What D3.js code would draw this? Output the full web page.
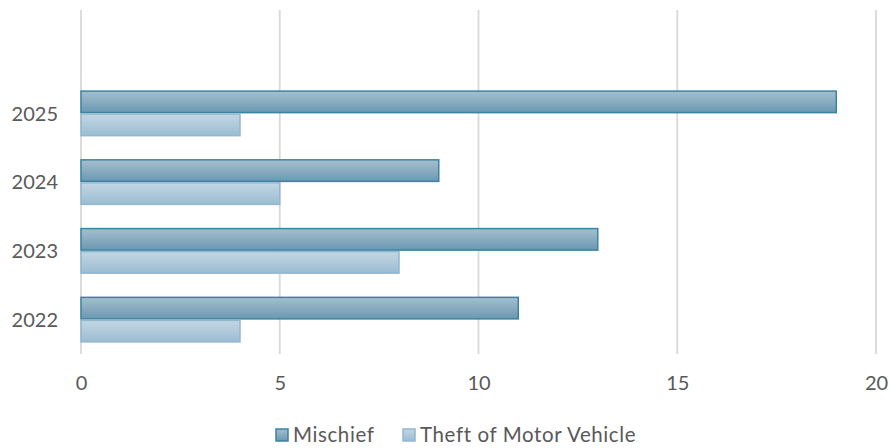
<!DOCTYPE html>
<html><head><meta charset="utf-8">
<script src="https://cdn.jsdelivr.net/npm/d3@7"></script>
<style>body{margin:0;background:#fff;} svg{display:block;} text{font-family:"Lato","Open Sans",sans-serif;fill:#595959;}</style>
</head><body>
<script>
const years = ["2022","2023","2024","2025"];
const seriesNames = ["Mischief","Theft of Motor Vehicle"];
const mischief = [11,13,9,19];
const theft = [4,8,5,4];
const xTicks = [0,5,10,15,20];

const W=891,H=448;
const svg=d3.select("body").append("svg").attr("width",W).attr("height",H);
const defs=svg.append("defs");
function grad(id,c1,c2){const g=defs.append("linearGradient").attr("id",id).attr("x1",0).attr("y1",0).attr("x2",0).attr("y2",1);
 g.append("stop").attr("offset","0%").attr("stop-color",c1);g.append("stop").attr("offset","100%").attr("stop-color",c2);}
grad("gM","#a6bfcd","#6a98b2");
grad("gT","#c3d7e3","#9bbcd2");
const fills=["url(#gM)","url(#gT)"], strokes=["#3b83a4","#92b7d0"];

const x=d3.scaleLinear().domain([0,20]).range([81,876]);
const y=d3.scaleBand().domain(years).range([354,79]).paddingInner(0.33).paddingOuter(0.165);
const ySub=d3.scaleBand().domain([0,1]).range([0,y.bandwidth()]);

// gridlines
svg.append("g").selectAll("line").data(xTicks).join("line")
 .attr("x1",d=>x(d)).attr("x2",d=>x(d)).attr("y1",10).attr("y2",354)
 .attr("stroke","#d9d9d9").attr("stroke-width",1.8);

const data=[mischief,theft];
data.forEach((vals,si)=>{
 svg.append("g").selectAll("rect").data(years).join("rect")
  .attr("x",x(0)).attr("y",(d)=>y(d)+ySub(si)+0.75)
  .attr("width",(d,i)=>x(vals[i])-x(0)).attr("height",ySub.bandwidth()-1.5)
  .attr("fill",fills[si]).attr("stroke",strokes[si]).attr("stroke-width",1.5);
});

// axes labels
const xa=d3.axisBottom(x).tickValues(xTicks).tickSize(0).tickPadding(0);
const gx=svg.append("g").attr("transform","translate(0,376)").call(xa);
gx.select(".domain").remove();
gx.selectAll("text").attr("font-size",20).attr("dy","0.71em").style("fill","#595959").style("font-family","Lato, sans-serif");

const ya=d3.axisLeft(y).tickSize(0).tickPadding(0);
const gy=svg.append("g").attr("transform","translate(58,0)").call(ya);
gy.select(".domain").remove();
gy.selectAll("text").attr("font-size",20).attr("dy","0.36em").style("fill","#595959").style("font-family","Lato, sans-serif");

// legend
const leg=svg.append("g");
const lx=[276,403];
seriesNames.forEach((n,i)=>{
 leg.append("rect").attr("x",lx[i]).attr("y",429).attr("width",12).attr("height",12)
  .attr("fill",fills[i]).attr("stroke",strokes[i]).attr("stroke-width",1.5);
 leg.append("text").attr("x",lx[i]+17).attr("y",442).attr("font-size",20.5).attr("letter-spacing",0.6).text(n);
});
</script>
</body></html>
